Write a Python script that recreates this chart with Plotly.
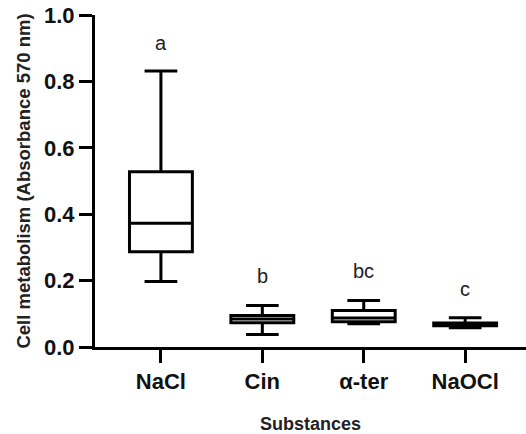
import plotly.graph_objects as go

categories = ["NaCl", "Cin", "α-ter", "NaOCl"]
q1 = [0.287, 0.073, 0.076, 0.064]
median = [0.373, 0.084, 0.087, 0.068]
q3 = [0.528, 0.095, 0.110, 0.072]
lower = [0.197, 0.038, 0.070, 0.058]
upper = [0.831, 0.125, 0.140, 0.088]
letters = ["a", "b", "bc", "c"]
letter_y = [0.916, 0.214, 0.229, 0.175]
yticks = [0.0, 0.2, 0.4, 0.6, 0.8, 1.0]

FONT = "Liberation Sans, Arial, sans-serif"

fig = go.Figure()
fig.add_trace(go.Box(
    x=categories, q1=q1, median=median, q3=q3,
    lowerfence=lower, upperfence=upper,
    fillcolor="white", line=dict(color="black", width=3),
    width=0.62, whiskerwidth=0.52, boxpoints=False, showlegend=False,
    hoverinfo="skip",
))

for c, t, y in zip(categories, letters, letter_y):
    fig.add_annotation(x=c, y=y, text=t, showarrow=False, yanchor="middle",
                       font=dict(family=FONT, size=20, color="#222"))

fig.update_layout(
    width=526, height=434,
    margin=dict(l=95, r=0, t=15, b=87, autoexpand=False),
    plot_bgcolor="white", paper_bgcolor="white",
    font=dict(family=FONT, color="black"),
    xaxis=dict(
        range=[-0.65, 3.6], showline=True, linecolor="black", linewidth=3,
        ticks="outside", ticklen=13, tickwidth=3, tickcolor="black",
        tickfont=dict(family=FONT, size=22, color="#111", weight="bold"),
        title=dict(text="<b>Substances</b>", font=dict(family=FONT, size=18, color="#222"), standoff=25),
        showgrid=False, zeroline=False, fixedrange=True, automargin=False,
    ),
    yaxis=dict(
        range=[0, 1.0], showline=True, linecolor="black", linewidth=3,
        tickvals=yticks, ticktext=[f"{v:.1f}" for v in yticks],
        ticks="outside", ticklen=13, tickwidth=3, tickcolor="black",
        tickfont=dict(family=FONT, size=22, color="#111", weight="bold"),
        title=dict(text="<b>Cell metabolism (Absorbance 570 nm)</b>", font=dict(family=FONT, size=18.5, color="#222"), standoff=9),
        showgrid=False, zeroline=False, fixedrange=True, automargin=False,
    ),
)

fig.write_html("out.html", config={"displayModeBar": False},
               post_script="document.body.style.margin='0';")
